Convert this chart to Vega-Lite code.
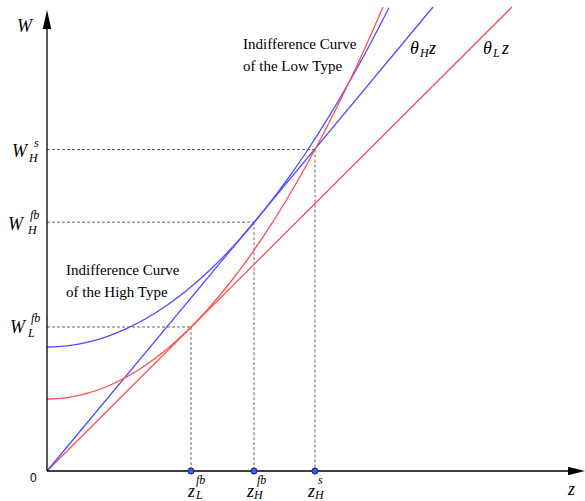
{
  "$schema": "https://vega.github.io/schema/vega-lite/v6.json",
  "width": 585,
  "height": 501,
  "autosize": "none",
  "padding": 0,
  "background": "white",
  "config": {"view": {"stroke": null}},
  "datasets": {
    "curves": [
      {"series": "thetaL", "z": 0, "w": 0},
      {"series": "thetaL", "z": 465, "w": 464},
      {"series": "thetaH", "z": 0, "w": 0},
      {"series": "thetaH", "z": 386, "w": 464},
      {"series": "ICH", "z": 0, "w": 124},
      {"series": "ICH", "z": 20, "w": 125.2},
      {"series": "ICH", "z": 40, "w": 128.6},
      {"series": "ICH", "z": 60, "w": 134.4},
      {"series": "ICH", "z": 80, "w": 142.6},
      {"series": "ICH", "z": 100, "w": 153},
      {"series": "ICH", "z": 120, "w": 165.8},
      {"series": "ICH", "z": 140, "w": 180.8},
      {"series": "ICH", "z": 160, "w": 198.2},
      {"series": "ICH", "z": 180, "w": 218},
      {"series": "ICH", "z": 200, "w": 240},
      {"series": "ICH", "z": 220, "w": 264.4},
      {"series": "ICH", "z": 240, "w": 291},
      {"series": "ICH", "z": 260, "w": 320},
      {"series": "ICH", "z": 280, "w": 351.4},
      {"series": "ICH", "z": 300, "w": 385},
      {"series": "ICH", "z": 320, "w": 421},
      {"series": "ICH", "z": 342, "w": 463.2},
      {"series": "ICL", "z": 0, "w": 72},
      {"series": "ICL", "z": 20, "w": 73.4},
      {"series": "ICL", "z": 40, "w": 77.6},
      {"series": "ICL", "z": 60, "w": 84.5},
      {"series": "ICL", "z": 80, "w": 94.2},
      {"series": "ICL", "z": 100, "w": 106.7},
      {"series": "ICL", "z": 120, "w": 122},
      {"series": "ICL", "z": 140, "w": 140.1},
      {"series": "ICL", "z": 160, "w": 160.9},
      {"series": "ICL", "z": 180, "w": 184.5},
      {"series": "ICL", "z": 200, "w": 210.9},
      {"series": "ICL", "z": 220, "w": 240.1},
      {"series": "ICL", "z": 240, "w": 272},
      {"series": "ICL", "z": 260, "w": 306.7},
      {"series": "ICL", "z": 280, "w": 344.2},
      {"series": "ICL", "z": 300, "w": 384.5},
      {"series": "ICL", "z": 320, "w": 427.5},
      {"series": "ICL", "z": 336, "w": 464}
    ],
    "guides": [
      {"z": 0, "w": 321.5, "z2": 268, "w2": 321.5},
      {"z": 268, "w": 321.5, "z2": 268, "w2": 0},
      {"z": 0, "w": 248.8, "z2": 207, "w2": 248.8},
      {"z": 207, "w": 248.8, "z2": 207, "w2": 0},
      {"z": 0, "w": 144, "z2": 144, "w2": 144},
      {"z": 144, "w": 144, "z2": 144, "w2": 0}
    ],
    "axes": [
      {"z": 0, "w": 0, "z2": 525, "w2": 0},
      {"z": 0, "w": 0, "z2": 0, "w2": 445}
    ],
    "points": [
      {"z": 144, "w": 0},
      {"z": 207, "w": 0},
      {"z": 268, "w": 0}
    ],
    "mainLetters": [
      {"z": -30, "w": 439, "t": "W"},
      {"z": -35, "w": 314, "t": "W"},
      {"z": -39, "w": 241, "t": "W"},
      {"z": -37, "w": 138, "t": "W"},
      {"z": 521, "w": -24, "t": "z"},
      {"z": 141, "w": -26, "t": "z"},
      {"z": 200, "w": -26, "t": "z"},
      {"z": 261, "w": -26, "t": "z"},
      {"z": 363, "w": 417, "t": "θ"},
      {"z": 382, "w": 417, "t": "z"},
      {"z": 436, "w": 417, "t": "θ"},
      {"z": 455, "w": 417, "t": "z"}
    ],
    "scripts": [
      {"z": -13, "w": 324, "t": "s"},
      {"z": -18, "w": 309, "t": "H"},
      {"z": -17, "w": 252, "t": "fb"},
      {"z": -19, "w": 237, "t": "H"},
      {"z": -16, "w": 149, "t": "fb"},
      {"z": -19, "w": 134, "t": "L"},
      {"z": 149, "w": -13, "t": "fb"},
      {"z": 149, "w": -28, "t": "L"},
      {"z": 210, "w": -13, "t": "fb"},
      {"z": 207, "w": -28, "t": "H"},
      {"z": 271, "w": -13, "t": "s"},
      {"z": 268, "w": -28, "t": "H"},
      {"z": 373, "w": 414, "t": "H"},
      {"z": 446, "w": 414, "t": "L"}
    ],
    "notes": [
      {"z": 196, "w": 422, "t": "Indifference Curve"},
      {"z": 196, "w": 400, "t": "of the Low Type"},
      {"z": 19, "w": 196, "t": "Indifference Curve"},
      {"z": 19, "w": 174, "t": "of the High Type"}
    ],
    "origin": [
      {"z": -17, "w": -11, "t": "0"}
    ],
    "arrowUp": [{"z": 0, "w": 451.5}],
    "arrowRight": [{"z": 529.5, "w": 0}]
  },
  "encoding": {
    "x": {"field": "z", "type": "quantitative", "scale": {"domain": [-47, 538], "nice": false, "zero": false}, "axis": null},
    "y": {"field": "w", "type": "quantitative", "scale": {"domain": [-30, 471], "nice": false, "zero": false}, "axis": null}
  },
  "layer": [
    {
      "data": {"name": "guides"},
      "mark": {"type": "rule", "color": "#666666", "strokeWidth": 1, "strokeDash": [3, 2]},
      "encoding": {"x2": {"field": "z2"}, "y2": {"field": "w2"}}
    },
    {
      "data": {"name": "curves"},
      "mark": {"type": "line", "strokeWidth": 1.3, "interpolate": "monotone", "clip": true},
      "encoding": {
        "color": {"field": "series", "type": "nominal", "scale": {"domain": ["thetaL", "thetaH", "ICH", "ICL"], "range": ["#ff4d4d", "#4d4dff", "#4d4dff", "#ff4d4d"]}, "legend": null},
        "order": {"field": "z", "type": "quantitative"}
      }
    },
    {
      "data": {"name": "axes"},
      "mark": {"type": "rule", "color": "black", "strokeWidth": 1.3},
      "encoding": {"x2": {"field": "z2"}, "y2": {"field": "w2"}}
    },
    {
      "data": {"name": "arrowUp"},
      "mark": {"type": "point", "shape": "M0,-1L0.45,1L-0.45,1Z", "size": 361, "filled": true, "color": "black", "opacity": 1, "strokeWidth": 0}
    },
    {
      "data": {"name": "arrowRight"},
      "mark": {"type": "point", "shape": "M1,0L-1,-0.5L-1,0.5Z", "size": 289, "filled": true, "color": "black", "opacity": 1, "strokeWidth": 0}
    },
    {
      "data": {"name": "points"},
      "mark": {"type": "point", "shape": "circle", "size": 38, "filled": true, "fill": "#3d5cff", "stroke": "#1a1a66", "strokeWidth": 1, "opacity": 1}
    },
    {
      "data": {"name": "mainLetters"},
      "mark": {"type": "text", "font": "Liberation Serif", "fontStyle": "italic", "fontSize": 18, "align": "left", "baseline": "alphabetic", "color": "black"},
      "encoding": {"text": {"field": "t"}}
    },
    {
      "data": {"name": "scripts"},
      "mark": {"type": "text", "font": "Liberation Serif", "fontStyle": "italic", "fontSize": 12, "align": "left", "baseline": "alphabetic", "color": "black"},
      "encoding": {"text": {"field": "t"}}
    },
    {
      "data": {"name": "notes"},
      "mark": {"type": "text", "font": "Liberation Serif", "fontSize": 15, "align": "left", "baseline": "alphabetic", "color": "black"},
      "encoding": {"text": {"field": "t"}}
    },
    {
      "data": {"name": "origin"},
      "mark": {"type": "text", "font": "Liberation Sans", "fontSize": 12, "align": "left", "baseline": "alphabetic", "color": "black"},
      "encoding": {"text": {"field": "t"}}
    }
  ]
}
